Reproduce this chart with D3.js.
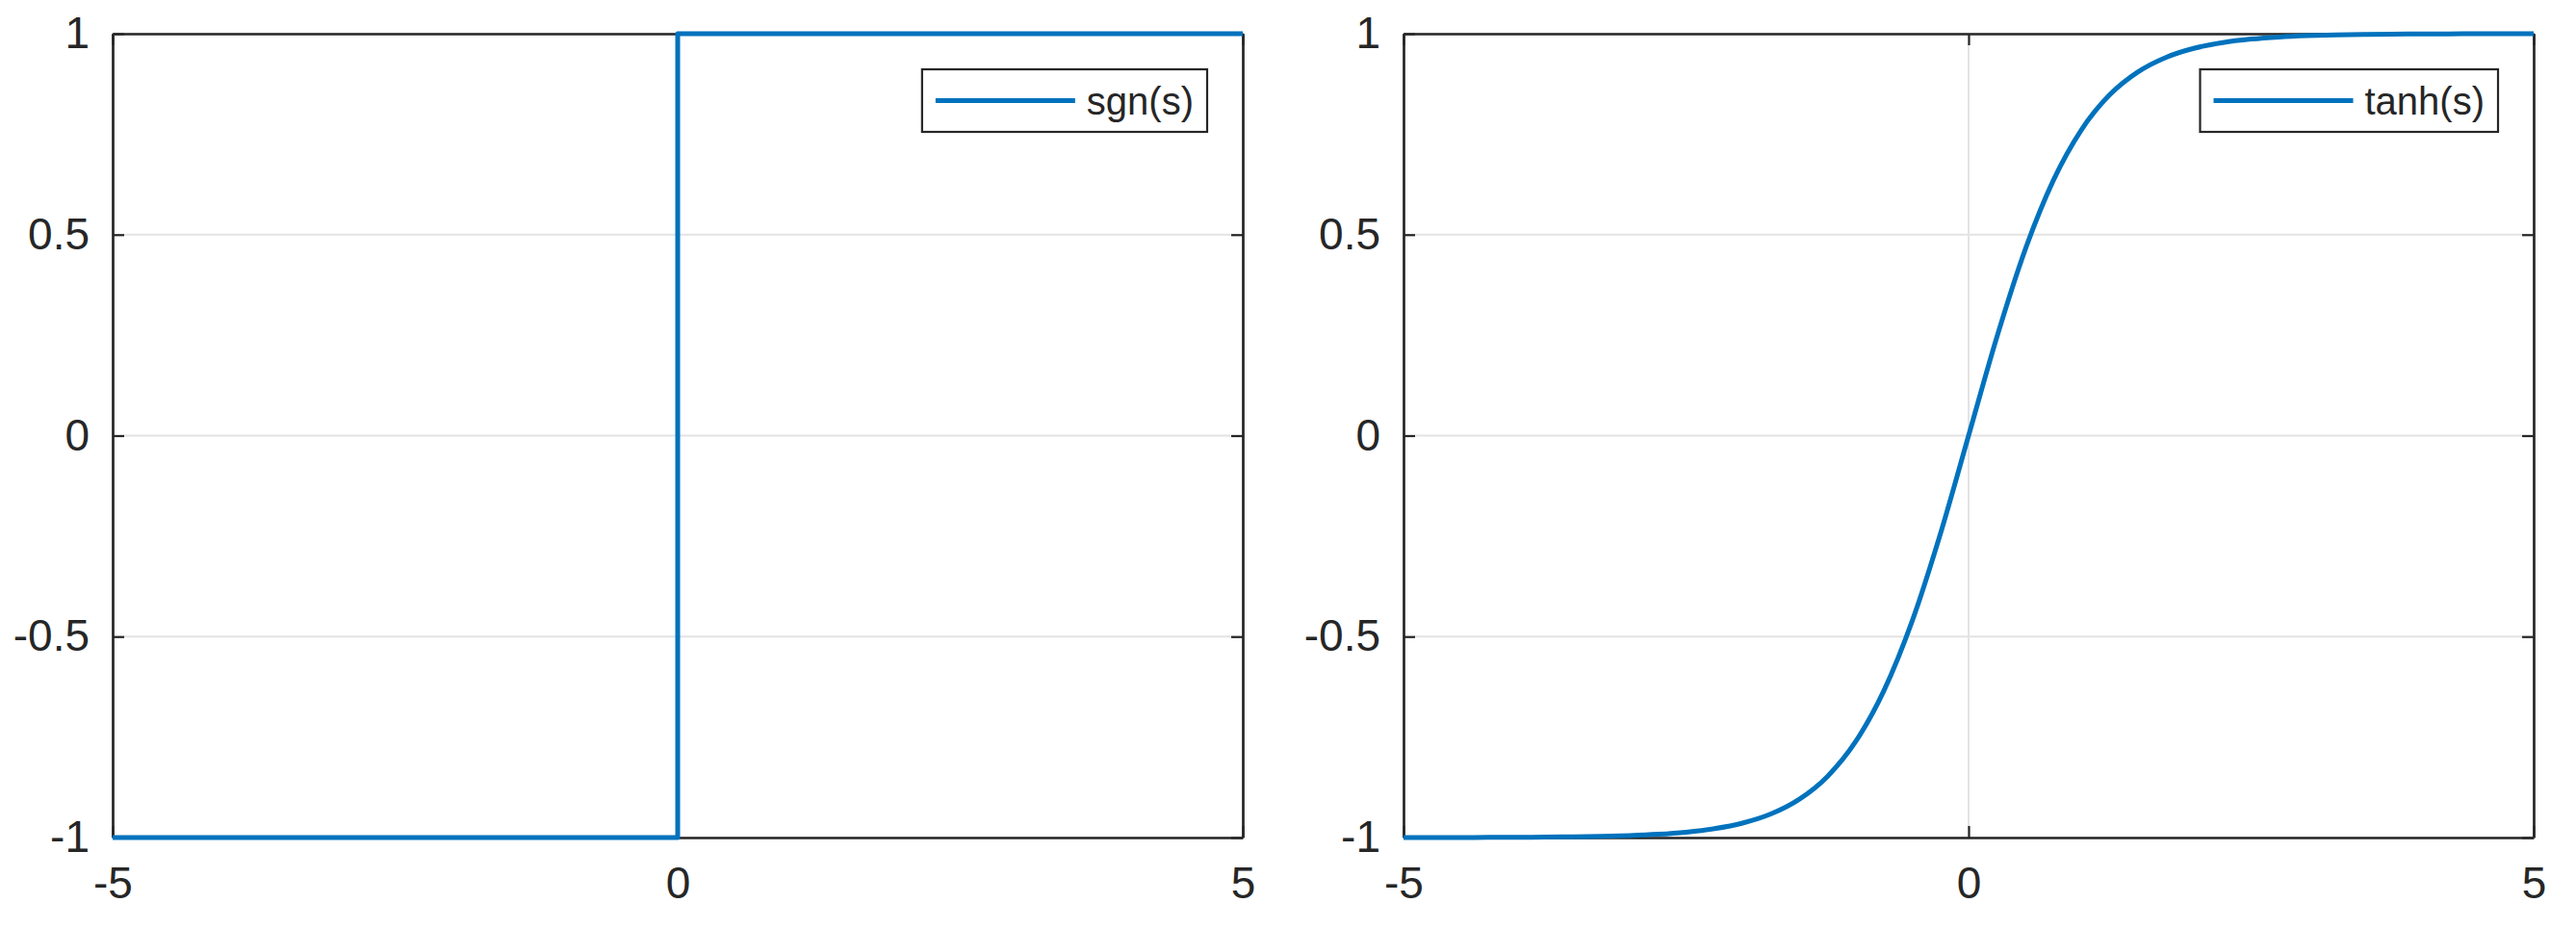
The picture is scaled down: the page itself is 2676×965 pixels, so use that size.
<!DOCTYPE html>
<html>
<head>
<meta charset="utf-8">
<script src="https://cdn.jsdelivr.net/npm/d3@7"></script>
<style>
  html, body { margin: 0; padding: 0; background: #fff; }
  svg { display: block; }
  text { font-family: "Liberation Sans", Arial, Helvetica, sans-serif; fill: #262626; }
</style>
</head>
<body>
<script>
// ---- data ----
const xTicks = [-5, 0, 5];
const yTicks = [-1, -0.5, 0, 0.5, 1];
const xTickLabels = ["-5", "0", "5"];
const yTickLabels = ["-1", "-0.5", "0", "0.5", "1"];

const sgnX = [-5, 0, 0, 0, 5];
const sgnY = [-1, -1, 0, 1, 1];

const tanhX = [-5, -4.75, -4.5, -4.25, -4, -3.75, -3.5, -3.25, -3, -2.75, -2.5, -2.25, -2, -1.75, -1.5, -1.25, -1, -0.75, -0.5, -0.25,
               0, 0.25, 0.5, 0.75, 1, 1.25, 1.5, 1.75, 2, 2.25, 2.5, 2.75, 3, 3.25, 3.5, 3.75, 4, 4.25, 4.5, 4.75, 5];
const tanhY = [-0.9999, -0.9999, -0.9998, -0.9996, -0.9993, -0.9989, -0.9982, -0.9970, -0.9951, -0.9919, -0.9866, -0.9780, -0.9640, -0.9414, -0.9051, -0.8483, -0.7616, -0.6351, -0.4621, -0.2449,
               0, 0.2449, 0.4621, 0.6351, 0.7616, 0.8483, 0.9051, 0.9414, 0.9640, 0.9780, 0.9866, 0.9919, 0.9951, 0.9970, 0.9982, 0.9989, 0.9993, 0.9996, 0.9998, 0.9999, 0.9999];

const panels = [
  { name: "sgn(s)", xs: sgnX, ys: sgnY, left: 117, curve: d3.curveLinear },
  { name: "tanh(s)", xs: tanhX, ys: tanhY, left: 1458, curve: d3.curveMonotoneX }
];

// ---- layout ----
const W = 2676, H = 965;
const plotTop = 35, plotW = 1174, plotH = 835;
const blue = "#0072BD", axisCol = "#262626", gridCol = "#e3e3e3";

const svg = d3.select("body").append("svg").attr("width", W).attr("height", H);

panels.forEach(p => {
  const x = d3.scaleLinear().domain([-5, 5]).range([p.left, p.left + plotW]);
  const y = d3.scaleLinear().domain([-1, 1]).range([plotTop + plotH, plotTop]);
  const g = svg.append("g");

  // grid
  g.selectAll(".gx").data(xTicks).enter().append("line")
    .attr("x1", d => x(d)).attr("x2", d => x(d))
    .attr("y1", plotTop).attr("y2", plotTop + plotH)
    .attr("stroke", gridCol).attr("stroke-width", 2);
  g.selectAll(".gy").data(yTicks).enter().append("line")
    .attr("x1", p.left).attr("x2", p.left + plotW)
    .attr("y1", d => y(d)).attr("y2", d => y(d))
    .attr("stroke", gridCol).attr("stroke-width", 2);

  // axes via d3 axis generators (inward ticks)
  const tl = 12;
  const fs = "46px";
  const bottomAxis = d3.axisBottom(x).tickValues(xTicks).tickFormat((d, i) => xTickLabels[i]).tickSizeInner(-tl).tickSizeOuter(0).tickPadding(36);
  const leftAxis = d3.axisLeft(y).tickValues(yTicks).tickFormat((d, i) => yTickLabels[i]).tickSizeInner(-tl).tickSizeOuter(0).tickPadding(36);
  const topAxis = d3.axisTop(x).tickValues(xTicks).tickFormat("").tickSizeInner(-tl).tickSizeOuter(0);
  const rightAxis = d3.axisRight(y).tickValues(yTicks).tickFormat("").tickSizeInner(-tl).tickSizeOuter(0);

  const styleAxis = sel => {
    sel.selectAll("path").attr("stroke", axisCol).attr("stroke-width", 2.7);
    sel.selectAll("line").attr("stroke", axisCol).attr("stroke-width", 2.2);
    sel.selectAll("text").attr("font-size", fs).attr("fill", axisCol)
      .style("font-family", '"Liberation Sans", Arial, sans-serif');
  };

  const bx = g.append("g").attr("transform", `translate(0,${plotTop + plotH})`).call(bottomAxis).call(styleAxis);
  bx.selectAll("text").attr("dy", "0.71em").attr("y", 30);
  const lx = g.append("g").attr("transform", `translate(${p.left},0)`).call(leftAxis).call(styleAxis);
  lx.selectAll("text").attr("x", -24);
  g.append("g").attr("transform", `translate(0,${plotTop})`).call(topAxis).call(styleAxis);
  g.append("g").attr("transform", `translate(${p.left + plotW},0)`).call(rightAxis).call(styleAxis);

  // data line
  const pts = p.xs.map((v, i) => [v, p.ys[i]]);
  const line = d3.line().x(d => x(d[0])).y(d => y(d[1])).curve(p.curve);
  g.append("path").datum(pts).attr("d", line)
    .attr("fill", "none").attr("stroke", blue).attr("stroke-width", 5)
    .attr("stroke-linejoin", "round").attr("stroke-linecap", "butt");

  // legend
  const lg = g.append("g");
  const lt = lg.append("text").text(p.name).attr("font-size", "40px")
    .style("font-family", '"Liberation Sans", Arial, sans-serif').attr("fill", "#000");
  const tw = lt.node().getComputedTextLength();
  const bw = 14 + 145 + 12 + tw + 14;
  const bh = 65;
  const bx0 = p.left + plotW - 37 - bw, by0 = plotTop + 37;
  lg.insert("rect", "text").attr("x", bx0).attr("y", by0).attr("width", bw).attr("height", bh)
    .attr("fill", "#fff").attr("stroke", axisCol).attr("stroke-width", 2.2);
  lg.append("line").attr("x1", bx0 + 14).attr("x2", bx0 + 159)
    .attr("y1", by0 + bh / 2).attr("y2", by0 + bh / 2)
    .attr("stroke", blue).attr("stroke-width", 5);
  lt.attr("x", bx0 + 171).attr("y", by0 + bh / 2).attr("dy", "0.36em");
});
</script>
</body>
</html>
